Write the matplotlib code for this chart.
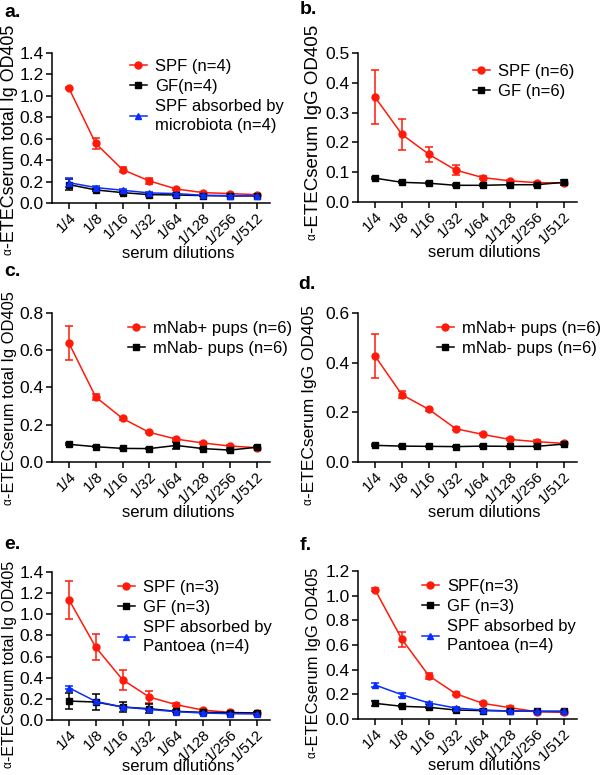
import matplotlib
matplotlib.use("Agg")
import matplotlib.pyplot as plt

plt.rcParams['font.family'] = ['Liberation Sans', 'DejaVu Sans']
plt.rcParams['font.size'] = 12

dilutions = ["1/4", "1/8", "1/16", "1/32", "1/64", "1/128", "1/256", "1/512"]

# Panel a
a_spf = [1.072, 0.556, 0.312, 0.206, 0.131, 0.097, 0.088, 0.078]
a_spf_err = [0.01, 0.05, 0.02, 0.025, 0.01, 0.01, 0.008, 0.006]
a_gf = [0.172, 0.122, 0.097, 0.078, 0.075, 0.069, 0.066, 0.066]
a_gf_err = [0.05, 0.012, 0.01, 0.008, 0.006, 0.005, 0.005, 0.005]
a_abs = [0.19, 0.144, 0.119, 0.094, 0.088, 0.072, 0.069, 0.069]
a_abs_err = [0.045, 0.012, 0.01, 0.008, 0.006, 0.005, 0.005, 0.005]

# Panel b
b_spf = [0.352, 0.227, 0.160, 0.107, 0.082, 0.071, 0.065, 0.064]
b_spf_err = [0.09, 0.053, 0.026, 0.016, 0.004, 0.004, 0.003, 0.003]
b_gf = [0.080, 0.066, 0.063, 0.056, 0.056, 0.058, 0.058, 0.066]
b_gf_err = [0.004, 0.003, 0.003, 0.003, 0.003, 0.003, 0.004, 0.008]

# Panel c
c_pos = [0.639, 0.349, 0.234, 0.159, 0.123, 0.102, 0.086, 0.077]
c_pos_err = [0.09, 0.015, 0.006, 0.005, 0.005, 0.004, 0.004, 0.003]
c_neg = [0.095, 0.082, 0.073, 0.072, 0.089, 0.072, 0.064, 0.079]
c_neg_err = [0.005, 0.004, 0.004, 0.004, 0.02, 0.004, 0.006, 0.005]

# Panel d
d_pos = [0.427, 0.271, 0.212, 0.134, 0.111, 0.091, 0.082, 0.075]
d_pos_err = [0.088, 0.015, 0.005, 0.005, 0.004, 0.004, 0.006, 0.004]
d_neg = [0.067, 0.064, 0.063, 0.062, 0.064, 0.063, 0.063, 0.072]
d_neg_err = [0.004, 0.003, 0.003, 0.003, 0.003, 0.003, 0.003, 0.005]

# Panel e
e_spf = [1.139, 0.689, 0.381, 0.217, 0.145, 0.094, 0.072, 0.066]
e_spf_err = [0.18, 0.125, 0.093, 0.055, 0.012, 0.01, 0.006, 0.005]
e_gf = [0.179, 0.170, 0.123, 0.107, 0.082, 0.072, 0.069, 0.066]
e_gf_err = [0.077, 0.078, 0.05, 0.04, 0.01, 0.006, 0.005, 0.005]
e_abs = [0.305, 0.176, 0.123, 0.100, 0.079, 0.066, 0.060, 0.057]
e_abs_err = [0.015, 0.01, 0.01, 0.008, 0.006, 0.005, 0.005, 0.005]

# Panel f
f_spf = [1.049, 0.646, 0.351, 0.205, 0.127, 0.092, 0.059, 0.054]
f_spf_err = [0.01, 0.06, 0.025, 0.01, 0.008, 0.015, 0.005, 0.015]
f_gf = [0.127, 0.103, 0.095, 0.073, 0.068, 0.065, 0.062, 0.062]
f_gf_err = [0.02, 0.008, 0.006, 0.01, 0.005, 0.005, 0.005, 0.005]
f_abs = [0.276, 0.197, 0.130, 0.089, 0.073, 0.065, 0.062, 0.062]
f_abs_err = [0.015, 0.015, 0.008, 0.006, 0.005, 0.004, 0.004, 0.004]

RED = "#ff1a0a"
BLACK = "#000000"
BLUE = "#0a2dff"

fig = plt.figure(figsize=(6, 7.75), dpi=100)
renderer = fig.canvas.get_renderer()

W, H = 600, 775

def make_ax(left_px, top_px, right_px, bottom_px):
    return fig.add_axes([left_px / W, 1 - bottom_px / H,
                         (right_px - left_px) / W, (bottom_px - top_px) / H])

def plot_series(ax, y, err, color, marker, ms, label):
    x = list(range(len(y)))
    ax.errorbar(x, y, yerr=err, fmt='none', ecolor=color,
                elinewidth=1.1, capsize=3, capthick=1.1, zorder=3)
    ax.plot(x, y, color=color, marker=marker, ms=ms, lw=1.1,
            label=label, zorder=4)

def style(ax, ymax, ystep, xlab_y=-0.29):
    ax.set_xlim(-0.63, 7.5)
    ax.set_ylim(0, ymax)
    ticks = []
    v = 0.0
    while v <= ymax + 1e-9:
        ticks.append(round(v, 3))
        v += ystep
    ax.set_yticks(ticks)
    ax.set_yticklabels([f"{t:.1f}" for t in ticks])
    ax.set_xticks(range(len(dilutions)))
    ax.set_xticklabels(dilutions, rotation=45, ha='right', rotation_mode='anchor')
    for s in ['top', 'right']:
        ax.spines[s].set_visible(False)
    for s in ['left', 'bottom']:
        ax.spines[s].set_linewidth(1.1)
    ax.tick_params(axis='y', direction='out', length=4.5, width=1.1, labelsize=12.5, pad=1.5)
    ax.tick_params(axis='x', direction='out', length=4.5, width=1.1, labelsize=11, pad=1)
    ax.set_xlabel("serum dilutions", fontsize=12, va='top')
    ax.xaxis.set_label_coords(0.578, xlab_y)

def legend(ax, x, y):
    leg = ax.legend(loc='upper left', bbox_to_anchor=(x, y), frameon=False,
                    handlelength=1.0, handletextpad=0.5, labelspacing=0.3,
                    fontsize=12, borderaxespad=0, borderpad=0)
    for t in leg.get_texts():
        t.set_linespacing(1.35)

def ylabel(main, xc, top, bottom):
    xa = xc / W
    a_t = fig.text(xa, 1 - bottom / H, "α", rotation=90, ha='center',
                   va='bottom', fontsize=8.5)
    ha_px = a_t.get_window_extent(renderer).height
    span = (bottom - top) - ha_px
    m_t = fig.text(xa + 0.002, 1 - (bottom - ha_px) / H, main, rotation=90,
                   ha='center', va='bottom', fontsize=12)
    h = m_t.get_window_extent(renderer).height
    m_t.set_fontsize(12 * span / h)

LY_TOTAL = "-ETECserum total Ig OD405"
LY_IGG = "-ETECserum IgG OD405"

# a
ax = make_ax(52, 53, 270, 203)
plot_series(ax, a_spf, a_spf_err, RED, 'o', 5, "SPF (n=4)")
plot_series(ax, a_gf, a_gf_err, BLACK, 's', 4.5, "GF(n=4)")
plot_series(ax, a_abs, a_abs_err, BLUE, '^', 5, "SPF absorbed by\nmicrobiota (n=4)")
style(ax, 1.4, 0.2)
legend(ax, 0.358, 0.96)
ylabel(LY_TOTAL, 8, 25, 255)

# b
ax = make_ax(358, 53, 577, 202)
plot_series(ax, b_spf, b_spf_err, RED, 'o', 5, "SPF (n=6)")
plot_series(ax, b_gf, b_gf_err, BLACK, 's', 4.5, "GF (n=6)")
style(ax, 0.5, 0.1)
legend(ax, 0.525, 0.925)
ylabel(LY_IGG, 312, 25, 240)

# c
ax = make_ax(52, 313, 270, 462)
plot_series(ax, c_pos, c_pos_err, RED, 'o', 5, "mNab+ pups (n=6)")
plot_series(ax, c_neg, c_neg_err, BLACK, 's', 4.5, "mNab- pups (n=6)")
style(ax, 0.8, 0.2)
legend(ax, 0.349, 0.945)
ylabel(LY_TOTAL, 8, 292, 505)

# d
ax = make_ax(358, 313, 577, 462)
plot_series(ax, d_pos, d_pos_err, RED, 'o', 5, "mNab+ pups (n=6)")
plot_series(ax, d_neg, d_neg_err, BLACK, 's', 4.5, "mNab- pups (n=6)")
style(ax, 0.6, 0.2)
legend(ax, 0.361, 0.945)
ylabel(LY_IGG, 308, 305, 505)

# e
ax = make_ax(52, 572, 270, 720)
plot_series(ax, e_spf, e_spf_err, RED, 'o', 5, "SPF (n=3)")
plot_series(ax, e_gf, e_gf_err, BLACK, 's', 4.5, "GF (n=3)")
plot_series(ax, e_abs, e_abs_err, BLUE, '^', 5, "SPF absorbed by\nPantoea (n=4)")
style(ax, 1.4, 0.2, xlab_y=-0.262)
legend(ax, 0.303, 0.946)
ylabel(LY_TOTAL, 8, 560, 768)

# f
ax = make_ax(358, 571, 577, 719)
plot_series(ax, f_spf, f_spf_err, RED, 'o', 5, "SPF(n=3)")
plot_series(ax, f_gf, f_gf_err, BLACK, 's', 4.5, "GF (n=3)")
plot_series(ax, f_abs, f_abs_err, BLUE, '^', 5, "SPF absorbed by\nPantoea (n=4)")
style(ax, 1.2, 0.2, xlab_y=-0.262)
legend(ax, 0.292, 0.946)
ylabel(LY_IGG, 312, 568, 758)

# panel letters
for lbl, xp, yp in [("a.", 4, 17), ("b.", 300, 14), ("c.", 4, 276),
                    ("d.", 298, 289), ("e.", 4, 549), ("f.", 300, 550)]:
    fig.text(xp / W, 1 - yp / H, lbl, fontsize=14, fontweight='bold',
             va='baseline', ha='left')

fig.savefig("out.png", dpi=100)
